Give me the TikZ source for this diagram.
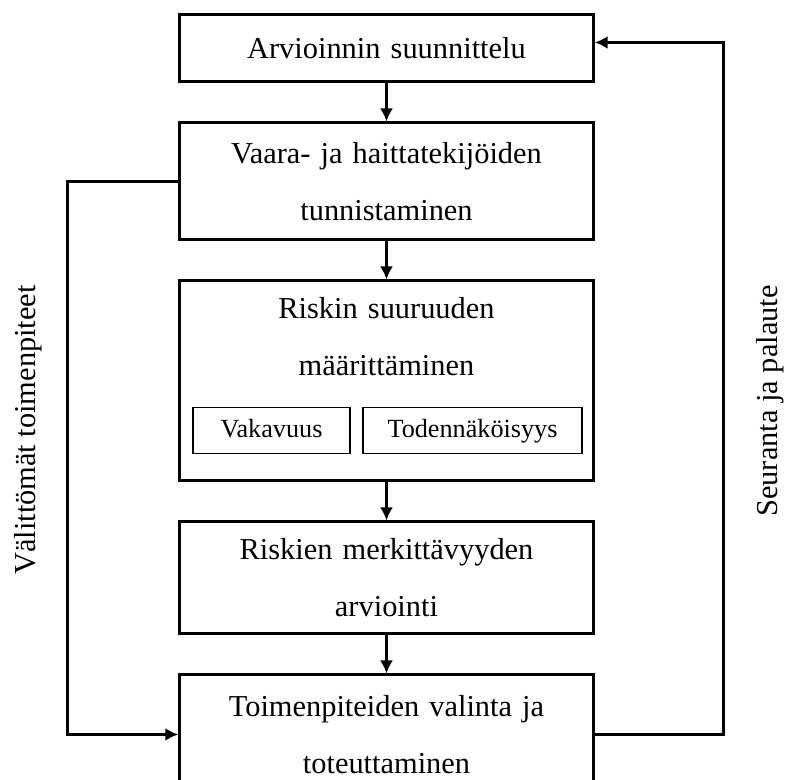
\documentclass[tikz,border=0pt]{standalone}
\usepackage{fontspec}
\setmainfont{Liberation Serif}
\usetikzlibrary{shapes, arrows.meta, positioning}

\begin{document}
\begin{tikzpicture}[
        node distance=19pt,
        process/.style={rectangle, draw, line width=1.5pt, text width=200pt, minimum width=206.5pt, text centered, font=\fontsize{15.2}{28.5}\selectfont},
        factor/.style={rectangle, draw, line width=0.7pt, minimum height=23pt, text height=1.5ex, text depth=0ex, text centered, font=\fontsize{13.1}{16}\selectfont},
        sidetext/.style={font=\fontsize{15.2}{18}\selectfont, rotate=90},
        line/.style={draw, -{Latex[length=6.5pt, width=6.5pt]}, line width=1.4pt}
    ]
    \useasboundingbox (0,0) rectangle (394.5pt,-390pt);

    \node [process, minimum height=33.5pt] (plan) at (193.25pt,-24.25pt) {Arvioinnin suunnittelu};
    \node [process, minimum height=58.5pt, below=of plan] (identify) {Vaara- ja haittatekijöiden\\tunnistaminen};
    \node [process, minimum height=100pt, below=of identify] (size) {};
    \node [process, draw=none] (sizetext) at ([yshift=-28.75pt]size.north) {Riskin suuruuden\\määrittäminen};
    \node [factor, minimum width=78.5pt] (severity) at ([xshift=-57.5pt,yshift=26pt]size.south) {Vakavuus};
    \node [factor, minimum width=109.5pt] (likelihood) at ([xshift=43pt,yshift=26pt]size.south) {Todennäköisyys};
    \node [process, minimum height=56pt, below=of size] (significance) {Riskien merkittävyyden\\arviointi};
    \node [process, minimum height=59.5pt, below=of significance] (actions) {Toimenpiteiden valinta ja\\toteuttaminen};

    \node [sidetext] (immediate) at (14pt,-215pt) {Välittömät toimenpiteet};
    \node [sidetext] (feedback) at (385pt,-200.5pt) {Seuranta ja palaute};

    \path [line] (plan) -- (identify);
    \path [line] (identify) -- (size);
    \path [line] (size) -- (significance);
    \path [line] (significance) -- (actions);
    \path [line] (identify.west) -| ([xshift=-55.5pt]actions.west) -- (actions.west);
    \path [line] (actions.east) -| ([xshift=64.5pt,yshift=3pt]plan.east) -- ([yshift=3pt]plan.east);

\end{tikzpicture}
\end{document}
